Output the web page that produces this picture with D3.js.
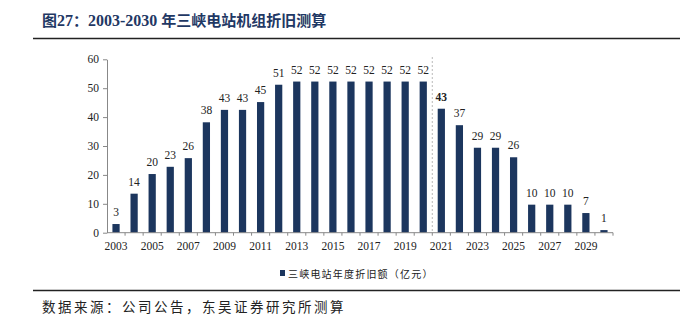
<!DOCTYPE html>
<html><head><meta charset="utf-8">
<script src="https://cdn.jsdelivr.net/npm/d3@7"></script>
<style>body{margin:0;background:#fff;}svg{display:block;}</style>
</head><body>
<script>
const years = d3.range(2003, 2031).map(String);
const values = [3,13.5,20.3,22.8,25.8,38.2,42.5,42.5,45.2,51.2,52.3,52.3,52.3,52.3,52.3,52.3,52.3,52.3,42.9,37.2,29.4,29.4,26.1,9.7,9.7,9.7,6.8,0.9];
const labels = ["3","14","20","23","26","38","43","43","45","51","52","52","52","52","52","52","52","52","43","37","29","29","26","10","10","10","7","1"];
const yTicks = [0,10,20,30,40,50,60];
const xTickLabels = years.filter((d,i)=>i%2===0);
const boldLabel = "2021";
const title = "图27：2003-2030 年三峡电站机组折旧测算";
const legendText = "三峡电站年度折旧额（亿元）";
const source = "数据来源：公司公告，东吴证券研究所测算";

const W = 691, H = 324;
const svg = d3.select("body").append("svg").attr("width", W).attr("height", H);
const navy = "#1c365e";
const serif = "'Liberation Serif','Times New Roman',serif";
const cjk = "'Noto Sans CJK SC','Noto Sans',sans-serif";

// title
const t = svg.append("text").attr("x", 42).attr("y", 26).attr("fill", "#1f3864")
  .attr("font-weight", "bold").attr("font-size", 15).attr("font-family", cjk);
t.append("tspan").text("图");
t.append("tspan").attr("font-family", serif).attr("font-size", 16).text("27");
t.append("tspan").text("：");
t.append("tspan").attr("font-family", serif).attr("font-size", 16).text("2003-2030 ");
t.append("tspan").text("年三峡电站机组折旧测算");
svg.append("line").attr("x1", 33).attr("x2", 680).attr("y1", 38.5).attr("y2", 38.5).attr("stroke", "#222").attr("stroke-width", 1.5);
svg.append("line").attr("x1", 33).attr("x2", 680).attr("y1", 290.5).attr("y2", 290.5).attr("stroke", "#222").attr("stroke-width", 1.5);
svg.append("text").attr("x", 42).attr("y", 311.5).attr("font-size", 13.5).attr("letter-spacing", 2.5)
  .attr("font-family", cjk).attr("fill", "#222").text(source);

const x = d3.scaleBand().domain(years).range([107, 613]).paddingInner(0.6).paddingOuter(0.3);
const y = d3.scaleLinear().domain([0, 60]).range([232.7, 59.3]);

// y axis
const ya = svg.append("g").attr("transform", "translate(107,0)")
  .call(d3.axisLeft(y).tickValues(yTicks).tickSize(4).tickSizeOuter(0));
ya.select(".domain").attr("stroke", "#888");
ya.selectAll(".tick line").attr("stroke", "#888");
ya.selectAll(".tick text").attr("font-family", serif).attr("font-size", 11.5).attr("fill", "#222").attr("x", -8);

// bars
svg.selectAll("rect.bar").data(values).enter().append("rect").attr("class", "bar")
  .attr("x", (d,i)=>x(years[i])).attr("width", x.bandwidth())
  .attr("y", d=>y(d)).attr("height", d=>y(0)-y(d)).attr("fill", navy);

// labels
svg.selectAll("text.val").data(values).enter().append("text").attr("class", "val")
  .attr("x", (d,i)=>x(years[i]) + x.bandwidth()/2).attr("y", d=>y(d)-8)
  .attr("text-anchor", "middle").attr("font-family", serif).attr("font-size", 11.5)
  .attr("fill", "#222").attr("font-weight", (d,i)=>years[i]===boldLabel?"bold":"normal")
  .text((d,i)=>labels[i]);

// x axis
const step = x.step();
const xa = svg.append("g").attr("transform", `translate(0,${y(0)})`);
xa.append("line").attr("x1", 107).attr("x2", 613).attr("stroke", "#888");
const bounds = years.map((d,i)=>x(d) - x.paddingInner()*step/2 + step);
xa.selectAll("line.tk").data(bounds).enter().append("line").attr("class","tk")
  .attr("x1", d=>d).attr("x2", d=>d).attr("y1", 0).attr("y2", 3).attr("stroke", "#888");
xa.selectAll("text").data(xTickLabels).enter().append("text")
  .attr("x", d=>x(d)+x.bandwidth()/2).attr("y", 17).attr("text-anchor", "middle")
  .attr("font-family", serif).attr("font-size", 11.5).attr("fill", "#222").text(d=>d);

// dashed divider between 2020 and 2021
const dx = (x("2020") + x.bandwidth() + x("2021")) / 2;
svg.append("line").attr("x1", dx).attr("x2", dx).attr("y1", 57).attr("y2", y(0))
  .attr("stroke", "#bbb").attr("stroke-dasharray", "2,2");

// legend
svg.append("rect").attr("x", 280).attr("y", 270).attr("width", 5).attr("height", 6).attr("fill", navy);
svg.append("text").attr("x", 288).attr("y", 277.5).attr("font-family", cjk).attr("font-size", 10).attr("letter-spacing", 1.2).attr("fill", "#222").text(legendText);
</script>
</body></html>
